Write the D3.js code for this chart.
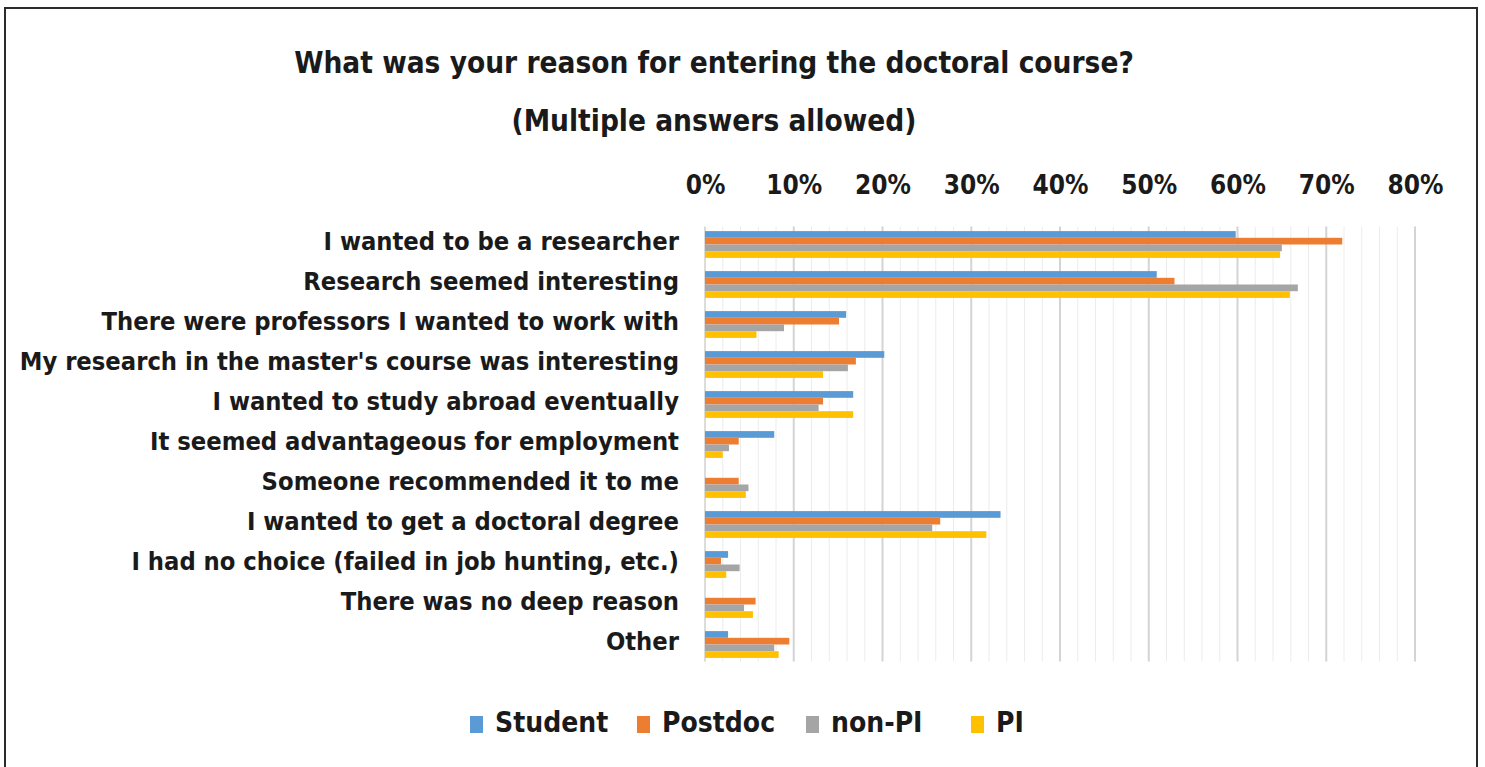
<!DOCTYPE html>
<html>
<head>
<meta charset="utf-8">
<script src="https://cdn.jsdelivr.net/npm/d3@7"></script>
<style>
  html, body { margin: 0; padding: 0; background: #fff; }
  svg { display: block; }
  text { font-family: "DejaVu Sans Condensed", "DejaVu Sans", sans-serif; font-weight: bold; fill: #1a1a1a; }
</style>
</head>
<body>
<svg id="chart" width="1485" height="767"></svg>
<script>
// Survey answers: share of respondents in each group choosing each reason
const categories = [
  "I wanted to be a researcher",
  "Research seemed interesting",
  "There were professors I wanted to work with",
  "My research in the master's course was interesting",
  "I wanted to study abroad eventually",
  "It seemed advantageous for employment",
  "Someone recommended it to me",
  "I wanted to get a doctoral degree",
  "I had no choice (failed in job hunting, etc.)",
  "There was no deep reason",
  "Other"
];
const seriesNames = ["Student", "Postdoc", "non-PI", "PI"];
const student = [59.8, 50.9, 15.9, 20.2, 16.7, 7.8, 0.0, 33.3, 2.6, 0.0, 2.6];
const postdoc = [71.8, 52.9, 15.1, 17.0, 13.3, 3.8, 3.8, 26.5, 1.8, 5.7, 9.5];
const nonPI   = [65.0, 66.8, 8.9, 16.1, 12.8, 2.7, 4.9, 25.6, 3.9, 4.4, 7.8];
const pi      = [64.8, 65.9, 5.8, 13.3, 16.7, 2.0, 4.6, 31.7, 2.4, 5.4, 8.3];
const seriesValues = [student, postdoc, nonPI, pi];
const colors = ["#5B9BD5", "#ED7D31", "#A5A5A5", "#FFC000"];
const tickValues = [0, 10, 20, 30, 40, 50, 60, 70, 80];
const titleLines = ["What was your reason for entering the doctoral course?", "(Multiple answers allowed)"];

const svg = d3.select("#chart");

// outer frame
svg.append("rect")
  .attr("x", 5).attr("y", 8).attr("width", 1472).attr("height", 780)
  .attr("fill", "none").attr("stroke", "#2b2b2b").attr("stroke-width", 2);

const plot = { left: 705, right: 1415, top: 224.5, bottom: 664.5 };

const x = d3.scaleLinear().domain([0, 80]).range([plot.left, plot.right]);
const y = d3.scaleBand().domain(categories).range([plot.top, plot.bottom]).paddingInner(0.33).paddingOuter(0.165);
const ySub = d3.scaleBand().domain(seriesNames).range([0, y.bandwidth()]);

// minor gridlines every 2%
svg.append("g")
  .selectAll("line")
  .data(d3.range(2, 81, 2).filter(v => v % 10 !== 0))
  .join("line")
  .attr("x1", d => x(d)).attr("x2", d => x(d))
  .attr("y1", plot.top + 2).attr("y2", plot.bottom - 3)
  .attr("stroke", "#ececec").attr("stroke-width", 1);

// major gridlines every 10%
svg.append("g")
  .selectAll("line")
  .data(tickValues.slice(1))
  .join("line")
  .attr("x1", d => x(d)).attr("x2", d => x(d))
  .attr("y1", plot.top + 2).attr("y2", plot.bottom - 3)
  .attr("stroke", "#d4d4d4").attr("stroke-width", 2);

// value axis on top
const xAxis = d3.axisTop(x).tickValues(tickValues).tickFormat(d => d + "%").tickSize(0).tickPadding(0);
const axG = svg.append("g").attr("transform", `translate(0,${194})`).call(xAxis);
axG.select(".domain").remove();
axG.selectAll("text").style("font-size", "26px").attr("dy", 0);

// category axis on the left
svg.append("line")
  .attr("x1", plot.left).attr("x2", plot.left)
  .attr("y1", plot.top + 2).attr("y2", plot.bottom - 3)
  .attr("stroke", "#d0d0d0").attr("stroke-width", 1.5);

const yAxis = d3.axisLeft(y).tickSize(0).tickPadding(26);
const ayG = svg.append("g").attr("transform", `translate(${plot.left},0)`).call(yAxis);
ayG.select(".domain").remove();
ayG.selectAll("text").style("font-size", "25.3px").attr("dy", "0.22em");

// grouped bars
const rows = categories.map((c, i) => ({ cat: c, vals: seriesValues.map((s, k) => ({ name: seriesNames[k], v: s[i], k })) }));
svg.append("g")
  .selectAll("g")
  .data(rows)
  .join("g")
  .attr("transform", d => `translate(0,${y(d.cat)})`)
  .selectAll("rect")
  .data(d => d.vals)
  .join("rect")
  .attr("x", x(0))
  .attr("y", d => ySub(d.name))
  .attr("width", d => x(d.v) - x(0))
  .attr("height", ySub.bandwidth())
  .attr("fill", d => colors[d.k]);

// title
svg.append("g")
  .selectAll("text")
  .data(titleLines)
  .join("text")
  .attr("x", 714).attr("y", (d, i) => 73 + i * 58)
  .attr("text-anchor", "middle")
  .style("font-size", "29.5px")
  .text(d => d);

// legend
const legendX = [470, 637, 806, 971];
const leg = svg.append("g").selectAll("g").data(seriesNames).join("g")
  .attr("transform", (d, i) => `translate(${legendX[i]},0)`);
leg.append("rect").attr("x", 0).attr("y", 716).attr("width", 13).attr("height", 17)
  .attr("fill", (d, i) => colors[i]);
leg.append("text").attr("x", 25).attr("y", 732).style("font-size", "28px").text(d => d);
</script>
</body>
</html>
